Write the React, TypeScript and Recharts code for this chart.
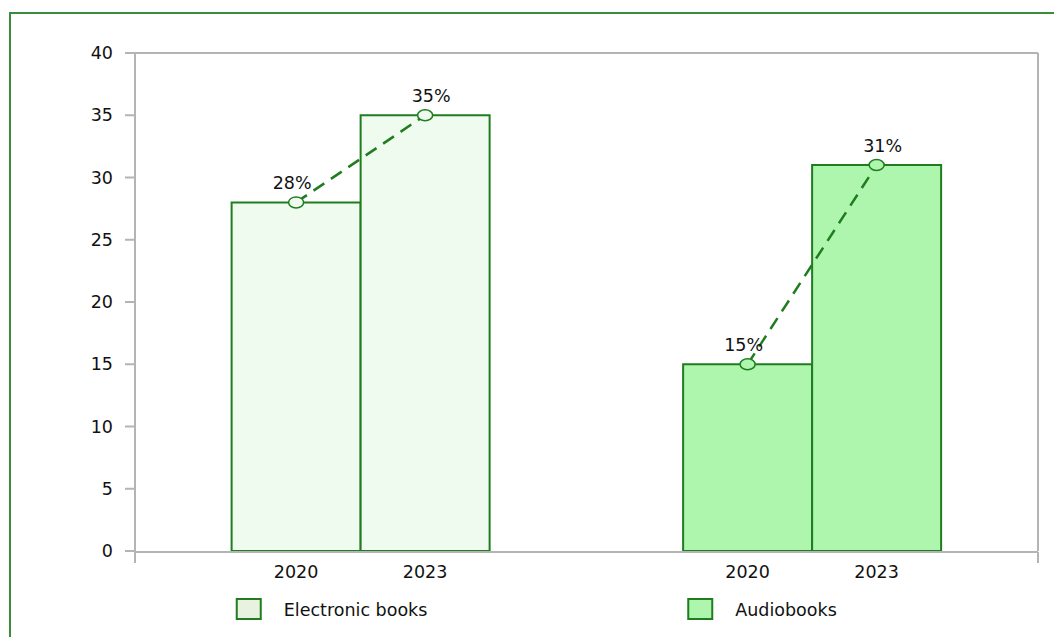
import React from 'react';
import { ComposedChart, Bar, XAxis, YAxis, Cell, LabelList } from 'recharts';

const categories = ['Electronic books', 'Audiobooks'];
const years = ['2020', '2023'];
const values2020 = [28, 15];
const values2023 = [35, 31];
const yTicks = [0, 5, 10, 15, 20, 25, 30, 35, 40];
const frameTicks = [0, 1, 2];
const barFills = ['#effbef', '#aef5ae'];
const legendFills = ['#e9f1e1', '#aef5ae'];

const GREEN = '#1f7d1f';
const GRAY = '#b4b4b4';
const FONT = 17.5;

const data = categories.map((c, i) => ({ name: c, y2020: values2020[i], y2023: values2023[i] }));

const getBox = (p: any) => {
  const vb = p.viewBox && p.viewBox.width != null ? p.viewBox : p;
  const x = Number(vb.x);
  const y = Number(vb.y);
  const w = Number(vb.width);
  const h = Number(vb.height);
  const top = Math.min(y, y + h);
  const base = Math.max(y, y + h);
  return { x, w, top, base, h: base - top };
};

const YearLabel = (label: string) => (p: any) => {
  const { x, w, base } = getBox(p);
  return (
    <text x={x + w / 2} y={base + 27} textAnchor="middle" fontSize={FONT} fill="#111">
      {label}
    </text>
  );
};

const Connector = (p: any) => {
  const { x, w, top, base, h } = getBox(p);
  const idx = p.index ?? 0;
  const v0 = values2020[idx];
  const v1 = values2023[idx];
  const x1 = x + w / 2;
  const y1 = top;
  const x0 = x - w / 2;
  const y0 = base - (h * v0) / v1;
  const fill = barFills[idx];
  return (
    <g>
      <line x1={x0} y1={y0} x2={x1} y2={y1} stroke={GREEN} strokeWidth={2.5} strokeDasharray="13 8" />
      <ellipse cx={x0} cy={y0} rx={7.5} ry={5.5} fill={fill} stroke={GREEN} strokeWidth={1.5} />
      <ellipse cx={x1} cy={y1} rx={7.5} ry={5.5} fill={fill} stroke={GREEN} strokeWidth={1.5} />
      <text x={x0 - 4} y={y0 - 13} textAnchor="middle" fontSize={FONT} fill="#111">{`${v0}%`}</text>
      <text x={x1 + 6} y={y1 - 13} textAnchor="middle" fontSize={FONT} fill="#111">{`${v1}%`}</text>
    </g>
  );
};

const LegendTick = (p: any) => {
  const { x, y, payload } = p;
  const idx = categories.indexOf(payload.value);
  const left = x - 124;
  return (
    <g>
      <rect x={left} y={y + 48} width={24} height={20} fill={legendFills[idx]} stroke={GREEN} strokeWidth={2} />
      <text x={left + 47} y={y + 65} fontSize={FONT} fill="#111">{payload.value}</text>
    </g>
  );
};

const EmptyTick = () => <g />;

export default function App() {
  return (
    <div
      style={{
        position: 'absolute',
        left: 0,
        top: 0,
        width: 1054,
        height: 637,
        overflow: 'hidden',
        background: '#fff',
        fontFamily: '"DejaVu Sans", Verdana, sans-serif',
      }}
    >
      <div
        style={{
          position: 'absolute',
          left: 9,
          top: 12,
          width: 1100,
          height: 700,
          border: '2px solid #3a8d3a',
          boxSizing: 'border-box',
        }}
      />
      <div style={{ position: 'absolute', left: 0, top: 0 }}>
        <ComposedChart
          width={1054}
          height={637}
          data={data}
          margin={{ top: 52, right: 15, bottom: 84, left: 75 }}
          barGap={0}
          barCategoryGap="21.4%"
        >
          <XAxis
            xAxisId="frame"
            type="number"
            domain={[0, 2]}
            ticks={frameTicks}
            tick={<EmptyTick />}
            tickSize={11}
            tickLine={{ stroke: GRAY, strokeWidth: 2 }}
            axisLine={{ stroke: GRAY, strokeWidth: 2 }}
            height={1}
            interval={0}
            allowDataOverflow
          />
          <XAxis
            xAxisId="cat"
            dataKey="name"
            type="category"
            axisLine={false}
            tickLine={false}
            tickSize={0}
            tickMargin={0}
            height={1}
            interval={0}
            tick={<LegendTick />}
          />
          <XAxis
            xAxisId="top"
            orientation="top"
            type="number"
            domain={[0, 2]}
            ticks={frameTicks}
            tick={false}
            tickLine={false}
            axisLine={{ stroke: GRAY, strokeWidth: 2 }}
            height={1}
            allowDataOverflow
          />
          <YAxis
            yAxisId="left"
            domain={[0, 40]}
            ticks={yTicks}
            width={60}
            tickSize={10}
            tickMargin={12}
            tick={{ fontSize: FONT, fill: '#111' }}
            tickLine={{ stroke: GRAY, strokeWidth: 2 }}
            axisLine={{ stroke: GRAY, strokeWidth: 2 }}
          />
          <YAxis
            yAxisId="right"
            orientation="right"
            domain={[0, 40]}
            ticks={yTicks}
            width={1}
            tick={false}
            tickLine={false}
            axisLine={{ stroke: GRAY, strokeWidth: 2 }}
            allowDataOverflow
          />
          <Bar
            xAxisId="cat"
            yAxisId="left"
            dataKey="y2020"
            name={years[0]}
            stroke={GREEN}
            strokeWidth={2}
            isAnimationActive={false}
          >
            {data.map((d, i) => (
              <Cell key={d.name} fill={barFills[i]} />
            ))}
            <LabelList dataKey="y2020" content={YearLabel(years[0])} />
          </Bar>
          <Bar
            xAxisId="cat"
            yAxisId="left"
            dataKey="y2023"
            name={years[1]}
            stroke={GREEN}
            strokeWidth={2}
            isAnimationActive={false}
          >
            {data.map((d, i) => (
              <Cell key={d.name} fill={barFills[i]} />
            ))}
            <LabelList dataKey="y2023" content={YearLabel(years[1])} />
            <LabelList dataKey="y2023" content={Connector} />
          </Bar>
        </ComposedChart>
      </div>
    </div>
  );
}
